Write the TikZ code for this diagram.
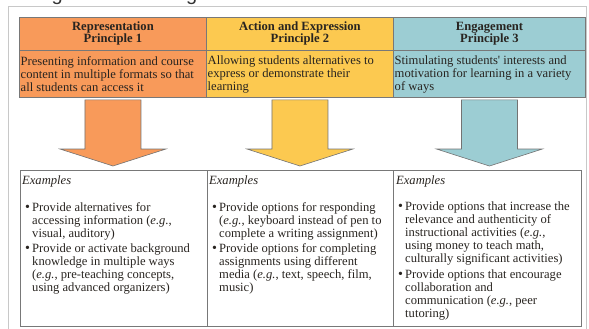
\documentclass[tikz,border=0pt]{standalone}
\usepackage{fontspec}
\setmainfont{Liberation Serif}
\newfontfamily\bodyserif{Liberation Serif}
\newfontfamily\capsans{Liberation Sans}
\usetikzlibrary{calc}

\definecolor{uorange}{RGB}{248,154,90}
\definecolor{uyellow}{RGB}{252,201,80}
\definecolor{ublue}{RGB}{156,205,211}
\definecolor{ink}{RGB}{40,36,32}
\definecolor{rulegray}{RGB}{120,120,120}
\definecolor{framegray}{RGB}{200,200,200}

\tikzset{
  txt/.style={inner sep=0pt, text=ink, font=\bodyserif\fontsize{12.6}{13}\selectfont},
  titlebox/.style={draw=rulegray, line width=0.9pt, minimum width=187pt,
    minimum height=33pt, inner sep=0pt, anchor=north west, align=center,
    text=ink, font=\bodyserif\bfseries\fontsize{12.6}{12}\selectfont},
  descbox/.style={draw=rulegray, line width=0.9pt, minimum width=187pt,
    minimum height=47pt, inner sep=0pt, anchor=north west},
  exbox/.style={draw=rulegray, line width=1.1pt, minimum width=187pt,
    minimum height=156pt, inner sep=0pt, anchor=north west},
  desctext/.style={txt, anchor=north west, align=left},
  itemtext/.style={txt, anchor=north west, align=left},
  exhead/.style={txt, anchor=base west, font=\bodyserif\itshape\fontsize{12.6}{13}\selectfont},
  arrowline/.style={draw=black!55, line width=0.6pt, line join=miter},
}

% bullet hung into the left margin of an item's first line
\newcommand\itemdot{\llap{{\fontsize{14}{13}\selectfont\textbullet}\hspace{2.2pt}}}

% broad downward block arrow from the bottom of one node to the top of another
\newcommand\blockarrow[3]{%
  \path[arrowline, fill=#3] let \p1=(#1.south), \p2=(#2.north) in
    (\x1-28pt,\y1-2pt) -- (\x1+28pt,\y1-2pt) -- (\x1+28pt,\y2+21pt)
    -- (\x1+53pt,\y2+21pt) -- (\x1,\y2+4pt) -- (\x1-53pt,\y2+21pt)
    -- (\x1-28pt,\y2+21pt) -- cycle;}

\begin{document}
\begin{tikzpicture}[x=1pt,y=-1pt]
\useasboundingbox (0,0) rectangle (589,329);

% caption fragments cut off at the top edge
\node[inner sep=0pt, anchor=base east, text=black!80,
  font=\capsans\fontsize{20}{20}\selectfont] (capa) at (63,1) {ng};
\node[inner sep=0pt, anchor=base west, text=black!80,
  font=\capsans\fontsize{20}{20}\selectfont] (capb) at (186,1) {g};

% outer frame
\draw[framegray, line width=1pt] (8,7) rectangle (586,345);

% principle titles
\node[titlebox, fill=uorange, minimum width=187pt] (h1) at (19,17) {Representation\\Principle 1};
\node[titlebox, fill=uyellow, minimum width=187pt] (h2) at (206,17) {Action and Expression\\Principle 2};
\node[titlebox, fill=ublue, minimum width=192pt] (h3) at (393,17) {Engagement\\Principle 3};

% principle descriptions
\node[descbox, fill=uorange, minimum width=187pt] (d1) at (19,50) {};
\node[descbox, fill=uyellow, minimum width=187pt] (d2) at (206,50) {};
\node[descbox, fill=ublue, minimum width=192pt] (d3) at (393,50) {};

\node[desctext] (t1) at (20.5,56) {Presenting information and course\\content in multiple formats so that\\all students can access it};
\node[desctext] (t2) at (207.5,56) {Allowing students alternatives to\\express or demonstrate their\\learning};
\node[desctext] (t3) at (394.5,56) {Stimulating students' interests and\\motivation for learning in a variety\\of ways};

% example boxes
\node[exbox, minimum width=187pt] (e1) at (20,170) {};
\node[exbox, minimum width=186pt] (e2) at (207,170) {};
\node[exbox, minimum width=188pt] (e3) at (393,170) {};

% arrows from each principle to its examples
\blockarrow{d1}{e1}{uorange}
\blockarrow{d2}{e2}{uyellow}
\blockarrow{d3}{e3}{ublue}

% example headings
\node[exhead] (x1) at (22,184) {Examples};
\node[exhead] (x2) at (209,184) {Examples};
\node[exhead] (x3) at (396,184) {Examples};

% column 1 items
\node[itemtext] (i11) at (32,202) {\itemdot Provide alternatives for\\accessing information (\textit{e.g.},\\visual, auditory)};
\node[itemtext] (i12) at (32,243.5) {\itemdot Provide or activate background\\knowledge in multiple ways\\(\textit{e.g.}, pre-teaching concepts,\\using advanced organizers)};

% column 2 items
\node[itemtext] (i21) at (219,202) {\itemdot Provide options for responding\\(\textit{e.g.}, keyboard instead of pen to\\complete a writing assignment)};
\node[itemtext] (i22) at (219,243.5) {\itemdot Provide options for completing\\assignments using different\\media (\textit{e.g.}, text, speech, film,\\music)};

% column 3 items
\node[itemtext] (i31) at (405,202) {\itemdot Provide options that increase the\\relevance and authenticity of\\instructional activities (\textit{e.g.},\\using money to teach math,\\culturally significant activities)};
\node[itemtext] (i32) at (405,269.5) {\itemdot Provide options that encourage\\collaboration and\\communication (\textit{e.g.}, peer\\tutoring)};
\end{tikzpicture}
\end{document}
